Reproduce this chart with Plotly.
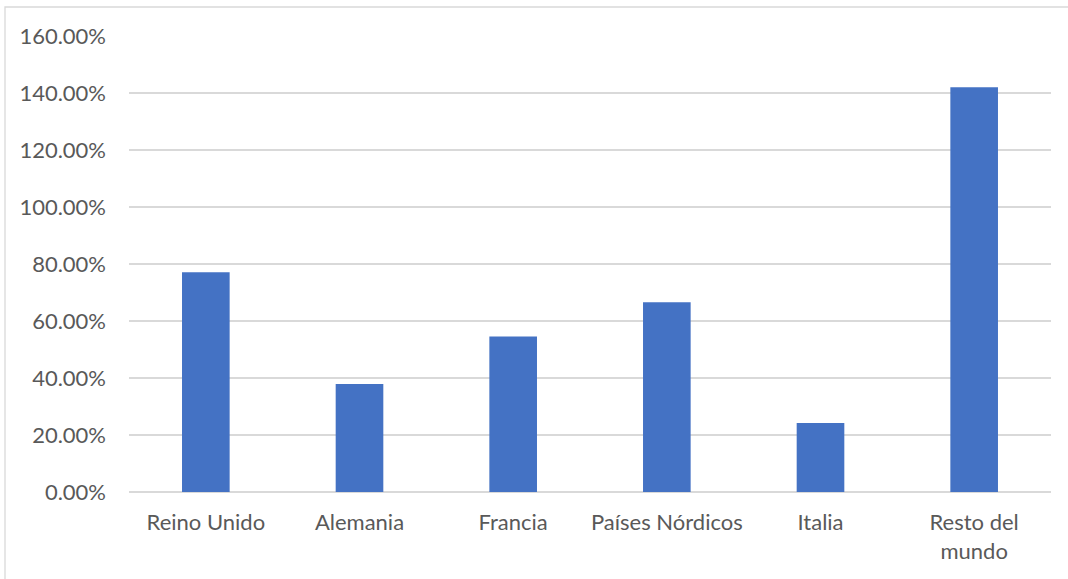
import plotly.graph_objects as go

categories = ["Reino Unido", "Alemania", "Francia", "Países Nórdicos", "Italia", "Resto del<br>mundo"]
values = [0.771, 0.379, 0.546, 0.666, 0.242, 1.420]
y_ticks = [0, 0.2, 0.4, 0.6, 0.8, 1.0, 1.2, 1.4, 1.6]

W, H = 1068, 579
ML, MR, MT, MB = 129, 17, 36, 87
pw, ph = W - ML - MR, H - MT - MB

font_family = "Lato, Carlito, Calibri, sans-serif"
text_color = "#595959"
grid_color = "#d9d9d9"
fs = 22

fig = go.Figure(
    go.Bar(
        x=categories,
        y=values,
        marker=dict(color="#4472C4", line=dict(width=0)),
        hoverinfo="skip",
    )
)

fig.update_layout(
    width=W,
    height=H,
    margin=dict(l=ML, r=MR, t=MT, b=MB, autoexpand=False),
    paper_bgcolor="white",
    plot_bgcolor="white",
    bargap=0.69,
    showlegend=False,
    font=dict(family=font_family, size=fs, color=text_color),
    xaxis=dict(
        showgrid=False,
        showline=False,
        zeroline=False,
        ticks="",
        ticklabelstandoff=15,
        tickfont=dict(family=font_family, size=fs, color=text_color),
    ),
    yaxis=dict(
        range=[0, 1.6],
        tickvals=y_ticks,
        tickformat=".2%",
        showgrid=True,
        gridcolor=grid_color,
        gridwidth=1.5,
        zeroline=True,
        zerolinecolor=grid_color,
        zerolinewidth=1.5,
        showline=False,
        ticks="",
        ticklabelstandoff=22,
        tickfont=dict(family=font_family, size=fs, color=text_color),
    ),
    shapes=[
        dict(
            type="rect",
            xref="paper",
            yref="paper",
            x0=(5 - ML) / pw,
            x1=(W + 20 - ML) / pw,
            y0=(H - MB - (H + 20)) / ph,
            y1=(H - MB - 7) / ph,
            line=dict(color=grid_color, width=1.3),
            fillcolor="rgba(0,0,0,0)",
            layer="below",
        )
    ],
)

fig.write_html(
    "out.html",
    config={"displayModeBar": False},
    post_script="document.body.style.margin='0';document.body.style.overflow='hidden';",
)
